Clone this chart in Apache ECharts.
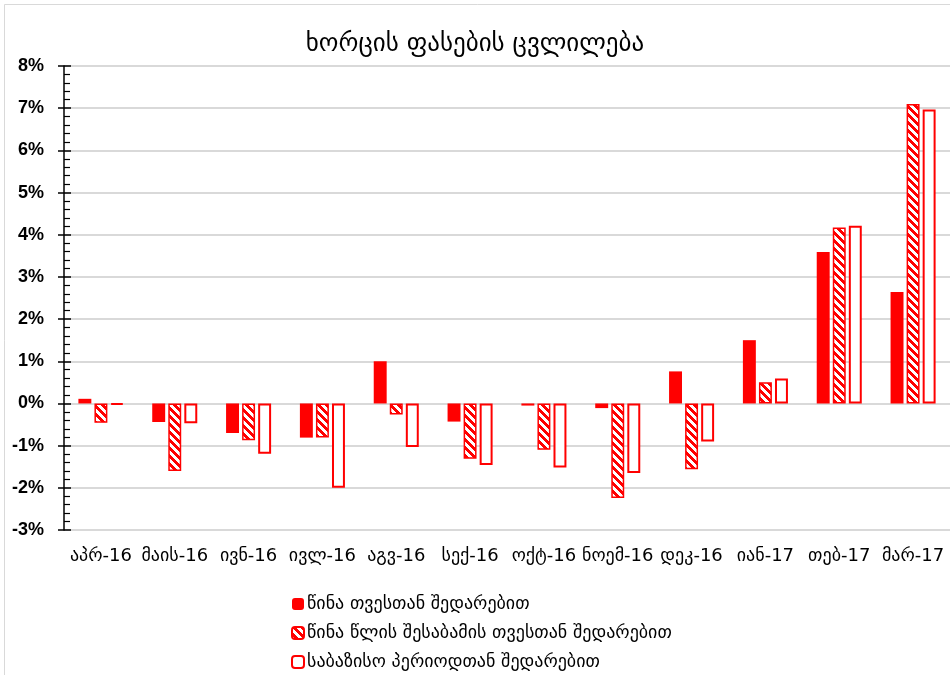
<!DOCTYPE html>
<html>
<head>
<meta charset="utf-8">
<script src="https://cdn.jsdelivr.net/npm/echarts@6/dist/echarts.min.js"></script>
<style>
  html, body { margin: 0; padding: 0; background: #fff; }
</style>
</head>
<body>
<div id="main" style="width: 950px; height: 675px;"></div>
<script>
  var months = ['აპრ-16', 'მაის-16', 'ივნ-16', 'ივლ-16', 'აგვ-16', 'სექ-16', 'ოქტ-16', 'ნოემ-16', 'დეკ-16', 'იან-17', 'თებ-17', 'მარ-17']
  var prevMonth = [0.11, -0.44, -0.70, -0.81, 1.00, -0.43, -0.05, -0.11, 0.76, 1.50, 3.59, 2.64]
  var prevYear = [-0.46, -1.60, -0.87, -0.81, -0.26, -1.31, -1.10, -2.24, -1.56, 0.50, 4.17, 7.10]
  var basePeriod = [-0.03, -0.47, -1.19, -2.00, -1.03, -1.46, -1.52, -1.65, -0.90, 0.59, 4.21, 6.97]
  var seriesNames = ['წინა თვესთან შედარებით', 'წინა წლის შესაბამის თვესთან შედარებით', 'საბაზისო პერიოდთან შედარებით']

  // diagonal "\" hatch
  function hatch () {
    var n = 8, w = 4
    var c = document.createElement('canvas')
    c.width = n; c.height = n
    var ctx = c.getContext('2d')
    var img = ctx.createImageData(n, n)
    for (var y = 0; y < n; y++) {
      for (var x = 0; x < n; x++) {
        var i = (y * n + x) * 4
        var red = ((x - y + n * 2) % n) < w
        img.data[i] = 255
        img.data[i + 1] = red ? 0 : 255
        img.data[i + 2] = red ? 0 : 255
        img.data[i + 3] = 255
      }
    }
    ctx.putImageData(img, 0, 0)
    return c
  }

  var geo = 'DejaVu Sans'
  var chart = echarts.init(document.getElementById('main'))
  var option = {
    animation: false,
    backgroundColor: '#fff',
    title: {
      text: 'ხორცის ფასების ცვლილება',
      left: 'center',
      top: 27,
      textStyle: { fontFamily: geo, fontSize: 25, fontWeight: 'normal', color: '#000' }
    },
    graphic: [{
      type: 'rect',
      shape: { x: 4.5, y: 4.5, width: 960, height: 700 },
      style: { fill: 'none', stroke: '#d9d9d9', lineWidth: 1 },
      silent: true
    }],
    legend: {
      orient: 'vertical',
      left: 291,
      top: 595,
      height: 80,
      padding: 0,
      itemWidth: 12,
      itemHeight: 12,
      itemGap: 11,
      data: seriesNames,
      textStyle: { fontFamily: geo, fontSize: 18, color: '#000', padding: [0, 0, 0, -2] }
    },
    grid: { left: 64, right: 0, top: 66, bottom: 145 },
    xAxis: {
      type: 'category',
      data: months,
      axisLine: { show: false },
      axisTick: { show: false },
      axisLabel: { interval: 0, margin: 17, fontFamily: geo, fontSize: 18, color: '#000' }
    },
    yAxis: [{
      type: 'value',
      min: -3,
      max: 8,
      interval: 1,
      axisLine: { show: true, lineStyle: { color: '#000', width: 1.5 } },
      axisTick: { show: true, length: 6, lineStyle: { color: '#000', width: 1.5 } },
      axisLabel: {
        margin: 20,
        fontFamily: 'Liberation Sans',
        fontWeight: 'bold',
        fontSize: 18,
        color: '#000',
        formatter: function (v) { return v + '%' }
      },
      splitLine: { show: true, lineStyle: { color: '#d9d9d9', width: 2 } }
    }, {
      type: 'value',
      position: 'left',
      min: -3,
      max: 8,
      interval: 1,
      axisLine: { show: false },
      axisTick: { show: true, inside: true, length: 7, lineStyle: { color: '#000', width: 1.5 } },
      minorTick: { show: true, splitNumber: 5, length: 6, lineStyle: { color: '#000', width: 1.2 } },
      axisLabel: { show: false },
      splitLine: { show: false }
    }],
    series: [{
      name: seriesNames[0],
      type: 'bar',
      data: prevMonth,
      barGap: '24%',
      barCategoryGap: '39%',
      itemStyle: { color: '#ff0000' }
    }, {
      name: seriesNames[1],
      type: 'bar',
      data: prevYear,
      itemStyle: { color: { image: hatch(), repeat: 'repeat' }, borderColor: '#ff0000', borderWidth: 1.5 }
    }, {
      name: seriesNames[2],
      type: 'bar',
      data: basePeriod,
      itemStyle: { color: '#ffffff', borderColor: '#ff0000', borderWidth: 2 }
    }]
  }
  chart.setOption(option)
</script>
</body>
</html>
